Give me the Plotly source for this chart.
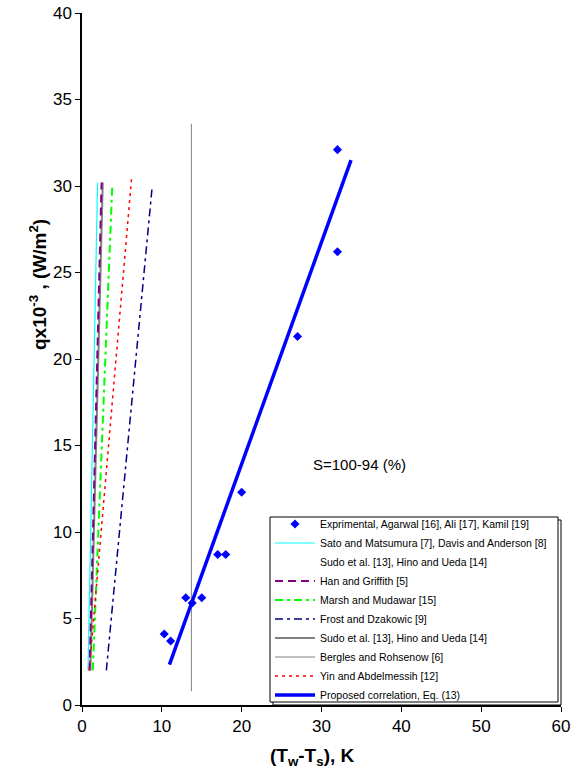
import plotly.graph_objects as go

# Experimental data
exp_x = [32, 32, 27, 20, 17, 18, 13, 15, 13.8, 10.3, 11.1]
exp_y = [32.1, 26.2, 21.3, 12.3, 8.7, 8.7, 6.2, 6.2, 5.9, 4.1, 3.7]

# Correlation lines (endpoints)
sato_x = [0.75, 1.95]
sato_y = [2.0, 30.2]
sudo_white_x = [0.8, 2.2]
sudo_white_y = [2.0, 30.2]
han_x = [0.95, 2.45]
han_y = [2.0, 30.2]
marsh_x = [1.35, 3.8]
marsh_y = [2.0, 30.1]
frost_x = [3.05, 8.8]
frost_y = [2.0, 30.0]
sudo_x = [1.05, 2.6]
sudo_y = [2.0, 30.2]
bergles_x = [13.7, 13.7]
bergles_y = [0.8, 33.6]
yin_x = [0.9, 6.2]
yin_y = [2.0, 30.4]
prop_x = [10.95, 33.7]
prop_y = [2.33, 31.5]

x_ticks = [0, 10, 20, 30, 40, 50, 60]
y_ticks = [0, 5, 10, 15, 20, 25, 30, 35, 40]

FONT = "Arial, Liberation Sans, sans-serif"

fig = go.Figure()
fig.add_trace(go.Scatter(x=exp_x, y=exp_y, mode="markers",
                         marker=dict(symbol="diamond", size=7, color="#0000FF"),
                         name="Exprimental, Agarwal [16], Ali [17], Kamil [19]", legendrank=1))
fig.add_trace(go.Scatter(x=sudo_white_x, y=sudo_white_y, mode="lines",
                         line=dict(color="#FFFFFF", width=1),
                         name="Sudo et al. [13], Hino and Ueda [14]", legendrank=3))
fig.add_trace(go.Scatter(x=sato_x, y=sato_y, mode="lines",
                         line=dict(color="#00FFFF", width=1.2),
                         name="Sato and Matsumura [7], Davis and Anderson [8]", legendrank=2))
fig.add_trace(go.Scatter(x=sudo_x, y=sudo_y, mode="lines",
                         line=dict(color="#808080", width=2),
                         name="Sudo et al. [13], Hino and Ueda [14]", legendrank=7))
fig.add_trace(go.Scatter(x=han_x, y=han_y, mode="lines",
                         line=dict(color="#800080", width=2, dash="8px,5px"),
                         name="Han and Griffith [5]", legendrank=4))
fig.add_trace(go.Scatter(x=marsh_x, y=marsh_y, mode="lines",
                         line=dict(color="#00FF00", width=2, dash="8px,4px,3px,4px"),
                         name="Marsh and Mudawar [15]", legendrank=5))
fig.add_trace(go.Scatter(x=frost_x, y=frost_y, mode="lines",
                         line=dict(color="#000080", width=1.5, dash="8px,4px,3px,4px"),
                         name="Frost and Dzakowic [9]", legendrank=6))
fig.add_trace(go.Scatter(x=bergles_x, y=bergles_y, mode="lines",
                         line=dict(color="#808080", width=1),
                         name="Bergles and Rohsenow [6]", legendrank=8))
fig.add_trace(go.Scatter(x=yin_x, y=yin_y, mode="lines",
                         line=dict(color="#FF0000", width=1.5, dash="3px,4px"),
                         name="Yin and Abdelmessih [12]", legendrank=9))
fig.add_trace(go.Scatter(x=prop_x, y=prop_y, mode="lines",
                         line=dict(color="#0000FF", width=3.5),
                         name="Proposed correlation, Eq. (13)", legendrank=10))

W, H = 574, 771
L, R, T, B = 82, 13, 13, 66
pw, ph = W - L - R, H - T - B

def px2paper(px, py):
    return (px - L) / pw, (H - B - py) / ph

# legend box (drawn as shapes) with shadow
bx0, by0 = px2paper(270, 517)
bx1, by1 = px2paper(558, 702)
sx0, sy0 = px2paper(273, 520)
sx1, sy1 = px2paper(561, 705)
lx, lcy = px2paper(270, 609.5)

fig.update_layout(
    width=W, height=H,
    margin=dict(l=L, r=R, t=T, b=B, autoexpand=False),
    paper_bgcolor="white", plot_bgcolor="white",
    font=dict(family=FONT, color="black"),
    showlegend=True,
    legend=dict(x=lx, y=lcy, xanchor="left", yanchor="middle",
                bgcolor="rgba(0,0,0,0)", borderwidth=0,
                font=dict(size=10.5, family=FONT, color="black"),
                tracegroupgap=0, itemwidth=40),
    xaxis=dict(range=[0, 60], tickvals=x_ticks,
               showgrid=False, zeroline=False, showline=True, linecolor="black",
               linewidth=1.5, ticks="outside", ticklen=5, tickcolor="black",
               tickfont=dict(size=17, family=FONT), automargin=False),
    yaxis=dict(range=[0, 40], tickvals=y_ticks,
               showgrid=False, zeroline=False, showline=True, linecolor="black",
               linewidth=1.5, ticks="outside", ticklen=5, tickcolor="black",
               tickfont=dict(size=17, family=FONT), automargin=False),
    shapes=[
        dict(type="rect", xref="paper", yref="paper",
             x0=sx0, y0=sy1, x1=sx1, y1=sy0,
             line=dict(color="black", width=1), fillcolor="white", layer="above"),
        dict(type="rect", xref="paper", yref="paper",
             x0=bx0, y0=by1, x1=bx1, y1=by0,
             line=dict(color="black", width=1), fillcolor="white", layer="above"),
    ],
)

ax, ay = px2paper(38, 285)
fig.add_annotation(xref="paper", yref="paper", x=ax, y=ay, showarrow=False,
                   xanchor="center", yanchor="middle",
                   text="<b>qx10<sup>-3</sup> , (W/m<sup>2</sup>)</b>", textangle=-90,
                   font=dict(size=19, family=FONT))
tx, ty = px2paper(312, 757)
fig.add_annotation(xref="paper", yref="paper", x=tx, y=ty, showarrow=False,
                   xanchor="center", yanchor="middle",
                   text="<b>(T<sub>w</sub>-T<sub>s</sub>), K</b>",
                   font=dict(size=19, family=FONT))
fig.add_annotation(x=34.8, y=13.9, showarrow=False, xanchor="center", yanchor="middle",
                   text="S=100-94 (%)", font=dict(size=15, family=FONT))

fig.write_html("out.html")
